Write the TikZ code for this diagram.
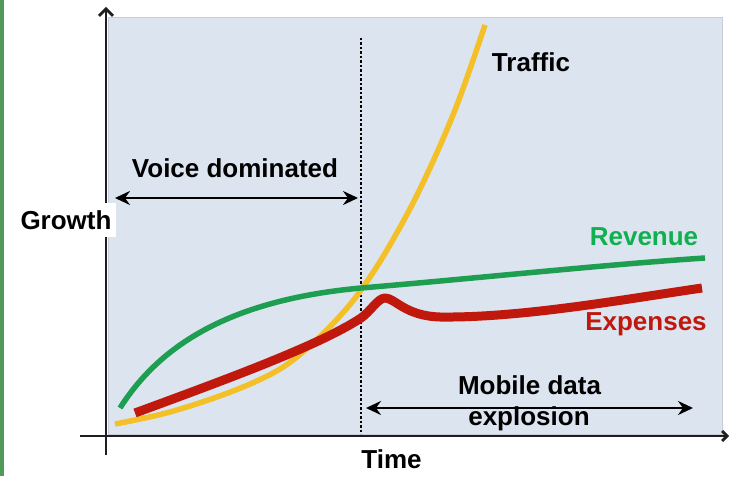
\documentclass[tikz,border=0pt]{standalone}
\usepackage{fontspec}
\setmainfont{Liberation Sans}
\usetikzlibrary{arrows.meta}

\definecolor{panelblue}{HTML}{DCE4F0}
\definecolor{paneledge}{HTML}{C6CDD8}
\definecolor{sidebar}{HTML}{4F9A58}
\definecolor{revline}{HTML}{1E9E50}
\definecolor{revtext}{HTML}{10B050}
\definecolor{expred}{HTML}{C0180C}
\definecolor{traffic}{HTML}{F4C028}
\definecolor{axisgray}{HTML}{1E1E1E}

\tikzset{
  lbl/.style={font=\bfseries\fontsize{26}{30}\selectfont, inner sep=0pt, anchor=base},
  axisline/.style={draw=axisgray, line width=2.8pt},
  spanarrow/.style={line width=2.4pt, {Stealth[length=15pt,width=14pt,inset=5pt]}-{Stealth[length=15pt,width=14pt,inset=5pt]}},
  curve/.style={line join=round}
}

\begin{document}
\begin{tikzpicture}[x=1pt, y=-1pt]
  \useasboundingbox (0,0) rectangle (730,476);
  \fill[white] (0,0) rectangle (730,476);

  % sidebar strip and chart panel
  \fill[sidebar] (0,0) rectangle (4,476);
  \fill[panelblue, draw=paneledge, line width=1pt] (108,18) rectangle (722,434);

  % divider between the two eras
  \coordinate (divtop) at (361,38);
  \coordinate (divbot) at (361,434);
  \draw[line width=1.4pt, dash pattern=on 2.5pt off 2pt] (divtop) -- (divbot);

  % growth curves
  \draw[curve, traffic, line width=5.5pt] plot[smooth, tension=0.6] coordinates {
    (115,424) (170,412) (233,391) (280,369) (313,343) (340,316) (361,290)
    (387,250) (420,189) (455,110) (485,25)};
  \draw[curve, revline, line width=5.5pt]
    (120,408) .. controls (160,345) and (230,300) .. (361,288)
              .. controls (480,278) and (600,265) .. (705,258);
  \draw[curve, expred, line width=9pt]
    (135,413) .. controls (230,378) and (320,345) .. (361,318)
              .. controls (370,312) and (378,298) .. (385,298)
              .. controls (395,298) and (405,316) .. (440,317)
              .. controls (520,318) and (620,300) .. (702,288);

  % axes
  \coordinate (yfoot) at (106,455);
  \coordinate (ytip) at (106,7);
  \coordinate (xfoot) at (80,436);
  \coordinate (xtip) at (729,436);
  \draw[axisline, -{Straight Barb[length=7pt,width=14pt]}] (yfoot) -- (ytip);
  \draw[axisline, -{Straight Barb[length=5pt,width=10pt]}] (xfoot) -- (xtip);

  % axis labels
  \node[lbl, anchor=center, fill=white, minimum width=100pt, minimum height=34pt] (growth) at (66,220) {Growth};
  \node[lbl] (time) at (391.5,468) {Time};

  % curve labels
  \node[lbl] (trafficlbl) at (531,72) {Traffic};
  \node[lbl, text=revtext] (revenuelbl) at (644,245) {Revenue};
  \node[lbl, text=expred] (expenseslbl) at (646,330) {Expenses};

  % era labels and spans
  \node[lbl] (voice) at (235,177) {Voice dominated};
  \coordinate (voiceL) at (115,198);
  \coordinate (voiceR) at (358,198);
  \draw[spanarrow] (voiceL) -- (voiceR);

  \node[lbl] (mobile) at (529.5,394) {Mobile data};
  \node[lbl] (explosion) at (529,425) {explosion};
  \coordinate (mobileL) at (366,408);
  \coordinate (mobileR) at (693,408);
  \draw[spanarrow] (mobileL) -- (mobileR);
\end{tikzpicture}
\end{document}
